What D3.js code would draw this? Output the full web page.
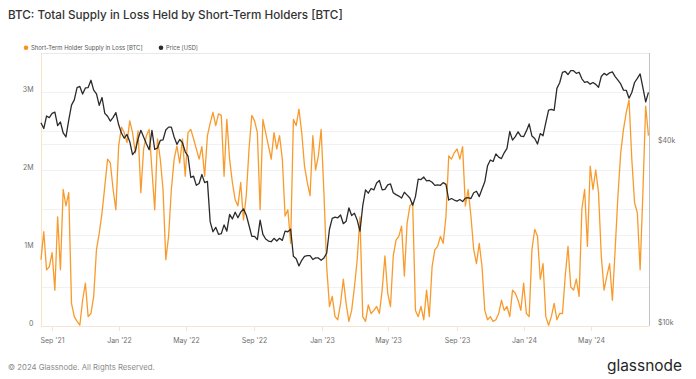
<!DOCTYPE html>
<html><head><meta charset="utf-8">
<script src="https://cdn.jsdelivr.net/npm/d3@7"></script>
<style>html,body{margin:0;padding:0;background:#fff;} svg{display:block;font-family:Inter,"Open Sans",sans-serif;}</style>
</head><body><svg id="c" width="696" height="379"></svg>
<script>
// ---- data ----
const startDate = "2021-08-13";
const stepDays = 5;
// BTC price, thousands USD, one value every 5 days
const priceUSDk = [
47,45,49.5,48.9,50.5,51,46,47.3,43.5,42.2,
48,53.8,56,61.5,62,58.5,61.3,61.5,65,60.3,
58.6,53.7,57,50.5,49.4,47.6,49,50.8,46.3,43.5,
41.8,43,40.7,36.9,37.9,41.6,44.4,42.2,40.1,38.3,
44.4,38.4,38.8,41.1,41.3,44.5,45.5,45.5,42.2,39.9,
41.4,40.4,37.7,36.5,31,31.3,29.2,29.6,31.7,29.8,
30.1,22.1,20.5,21.2,20.1,20.2,21.6,20.6,23.4,22.6,
23.8,22.8,23.8,24.4,23.3,21.5,19.8,19.8,19.3,22.4,
20.1,19.4,19.1,19.0,19.5,19.1,19.5,19.2,20.6,20.5,
20.9,17.0,16.7,15.8,16.5,17.0,17.1,17.1,16.6,16.8,
16.8,16.5,16.8,17.4,20.9,22.7,22.9,22.8,23.3,21.8,
22.2,24.6,23.2,23.6,22.4,20.6,25.0,28.2,27.5,28.5,
28.2,29.7,30.3,28.2,28.3,29.3,29.5,27.6,27.2,26.9,
26.5,27.7,27.1,26.5,25.1,26.8,30.6,30.5,31.1,30.2,
30.3,29.9,29.2,29.3,29.2,29.8,29.4,26.1,26.4,26.1,
25.9,26.2,25.8,26.5,26.6,26.4,27.6,27.9,26.8,28.4,
30.0,33.9,35.4,35.0,37.1,36.2,35.8,37.4,38.7,44.0,
41.2,42.3,43.9,42.5,42.3,44.2,46.6,42.5,41.7,40.0,
43.3,42.6,47.1,51.8,52.1,51.7,61.1,63.8,69.0,69.5,
67.9,70.0,69.9,68.5,69.1,65.7,64.0,64.3,63.1,63.9,
63.0,61.6,66.9,68.5,67.6,68.8,69.3,66.8,65.1,63.2,
60.3,60.2,56.7,59.2,63.9,65.9,68.2,61.4,55.1,59.3];
// Short-term holder supply in loss, millions BTC
const sthLossM = [
0.85,1.21,0.72,0.76,0.94,0.46,1.4,0.72,1.75,1.54,
1.71,0.29,0.12,0.06,0.01,0.33,0.55,0.12,0.16,0.38,
0.98,1.19,1.45,1.79,2.14,2.09,1.75,1.49,2.31,2.55,
2.48,2.35,2.63,2.48,2.22,2.5,1.71,2.27,2.44,2.52,
2.0,1.49,2.4,2.14,1.75,0.85,1.15,1.75,2.14,2.31,
2.09,2.4,1.92,2.48,2.52,2.4,2.27,2.14,2.3,1.92,
2.44,2.6,2.74,2.57,2.72,2.7,1.92,2.65,2.14,1.84,
1.62,1.54,1.84,1.36,1.67,2.27,2.7,2.63,2.48,1.49,
2.65,2.48,2.31,2.14,2.48,2.27,2.44,2.14,1.41,1.49,
1.06,2.65,2.57,2.78,2.48,2.05,1.84,1.67,2.44,2.0,
2.18,2.52,1.71,0.76,0.25,0.38,0.12,0.08,0.29,0.6,
0.29,0.06,0.2,0.5,0.85,1.4,0.12,0.06,0.27,0.16,
0.2,0.25,0.16,0.46,0.9,0.42,0.25,0.9,1.1,1.15,
1.28,0.64,1.32,1.54,1.58,0.2,0.12,0.25,0.08,0.46,
0.12,0.76,0.98,1.02,1.15,1.06,1.4,2.18,2.14,2.22,
2.27,2.14,2.3,1.54,1.75,1.41,0.98,0.8,1.06,0.76,
0.2,0.08,0.12,0.06,0.08,0.16,0.33,0.2,0.25,0.12,
0.46,0.42,0.33,0.2,0.55,0.16,0.12,0.98,1.24,1.15,
0.6,0.8,0.12,0.01,0.12,0.29,0.08,0.16,0.16,0.64,
1.02,0.5,0.46,0.6,0.38,1.5,1.75,1.02,2.05,1.75,
2.0,1.71,0.9,0.46,0.64,0.8,0.33,0.98,1.67,2.22,
2.52,2.74,2.9,2.14,1.58,1.45,0.72,1.71,2.82,2.44];
const xTickDates = ["2021-09-01","2022-01-01","2022-05-01","2022-09-01","2023-01-01","2023-05-01","2023-09-01","2024-01-01","2024-05-01"];
const xTickLabels = ["Sep '21","Jan '22","May '22","Sep '22","Jan '23","May '23","Sep '23","Jan '24","May '24"];
const leftTicks = [0,1,2,3];
const leftTickLabels = ["0","1M","2M","3M"];
const leftGrid = [0.5,1,1.5,2,2.5,3];
const rightTicks = [10,40];
const rightTickLabels = ["$10k","$40k"];
const rightGrid = [20,40];
const seriesNames = ["Short-Term Holder Supply in Loss [BTC]","Price [USD]"];

// ---- layout ----
const L=41,R=649,T=53,B=326;
const orange="#f7931a", dark="#2b2b2b";
const svg=d3.select("#c");
const parse=d3.utcParse("%Y-%m-%d");
const t0=parse(startDate);
const dates=sthLossM.map((_,i)=>d3.utcDay.offset(t0,i*stepDays));
const x=d3.scaleUtc().domain([parse("2021-08-13"),parse("2024-08-13")]).range([L,R]);
const yL=d3.scaleLinear().domain([0,3.5]).range([B,T]);
const yR=d3.scaleLog().domain([10,80]).range([B,T]);

function fit(sel,w){const n=sel.node();const fs=parseFloat(sel.attr("font-size"));const cw=n.getComputedTextLength();sel.attr("font-size",fs*w/cw);}

// grid
const g=svg.append("g");
g.selectAll(".gl").data(leftGrid).join("line").attr("x1",L).attr("x2",R).attr("y1",d=>yL(d)+0.5).attr("y2",d=>yL(d)+0.5).attr("stroke","#f1f1f1");
g.selectAll(".gr").data(rightGrid).join("line").attr("x1",L).attr("x2",R).attr("y1",d=>Math.round(yR(d))+0.5).attr("y2",d=>Math.round(yR(d))+0.5).attr("stroke","#f1f1f1");
g.append("line").attr("x1",L).attr("x2",R).attr("y1",T+0.5).attr("y2",T+0.5).attr("stroke","#e9e9e9");
// axes lines
g.append("line").attr("x1",L).attr("x2",R).attr("y1",B+0.5).attr("y2",B+0.5).attr("stroke","#f6e4d0");
g.append("line").attr("x1",L+0.5).attr("x2",L+0.5).attr("y1",T).attr("y2",B).attr("stroke","#fbe2c6");
g.append("line").attr("x1",R+0.5).attr("x2",R+0.5).attr("y1",T).attr("y2",B).attr("stroke","#c4c4c4");

// x ticks
const xt=svg.append("g");
xTickDates.forEach((d,i)=>{
  const xx=Math.round(x(parse(d)))+0.5;
  xt.append("line").attr("x1",xx).attr("x2",xx).attr("y1",B+1).attr("y2",B+5).attr("stroke","#e6e6e6");
  xt.append("text").attr("x",xx).attr("y",343).attr("text-anchor","middle").attr("font-size",7).attr("fill","#6f6f6f").text(xTickLabels[i]);
});
// left ticks
leftTicks.forEach((v,i)=>{
  svg.append("text").attr("x",33.5).attr("y",yL(v)-0.3).attr("text-anchor","end").attr("font-size",7).attr("fill","#6f6f6f").text(leftTickLabels[i]);
});
rightTicks.forEach((v,i)=>{
  svg.append("text").attr("x",658).attr("y",yR(v)-0.8).attr("text-anchor","start").attr("font-size",7).attr("fill","#6f6f6f").text(rightTickLabels[i]);
});

// series
const lossData=sthLossM.map((v,i)=>({d:dates[i],v}));
const priceData=priceUSDk.map((v,i)=>({d:dates[i],v}));
svg.append("path").datum(lossData).attr("fill","none").attr("stroke",orange).attr("stroke-width",1.3).attr("stroke-linejoin","round").attr("opacity",0.92)
  .attr("d",d3.line().x(d=>x(d.d)).y(d=>yL(d.v)));
svg.append("path").datum(priceData).attr("fill","none").attr("stroke",dark).attr("stroke-width",1.3).attr("stroke-linejoin","round")
  .attr("d",d3.line().x(d=>x(d.d)).y(d=>yR(d.v)));

// title
const title=svg.append("text").attr("x",8).attr("y",19).attr("font-size",12).attr("font-weight",500).attr("fill","#333").text("BTC: Total Supply in Loss Held by Short-Term Holders [BTC]");
fit(title,335);
// legend
svg.append("circle").attr("cx",26).attr("cy",47.7).attr("r",2.3).attr("fill",orange);
const l1=svg.append("text").attr("x",31).attr("y",49.8).attr("font-size",6).attr("fill","#555").text(seriesNames[0]);
fit(l1,112);
svg.append("circle").attr("cx",161).attr("cy",47.7).attr("r",2.3).attr("fill",dark);
const l2=svg.append("text").attr("x",166).attr("y",49.8).attr("font-size",6).attr("fill","#555").text(seriesNames[1]);
fit(l2,32);
// footer
const ft=svg.append("text").attr("x",8).attr("y",370).attr("font-size",8).attr("fill","#8a8a8a").text("© 2024 Glassnode. All Rights Reserved.");
fit(ft,147);
const logo=svg.append("text").attr("x",607).attr("y",371).attr("font-size",15).attr("fill","#262626").attr("letter-spacing",0).text("glassnode");
fit(logo,75);
</script></body></html>
